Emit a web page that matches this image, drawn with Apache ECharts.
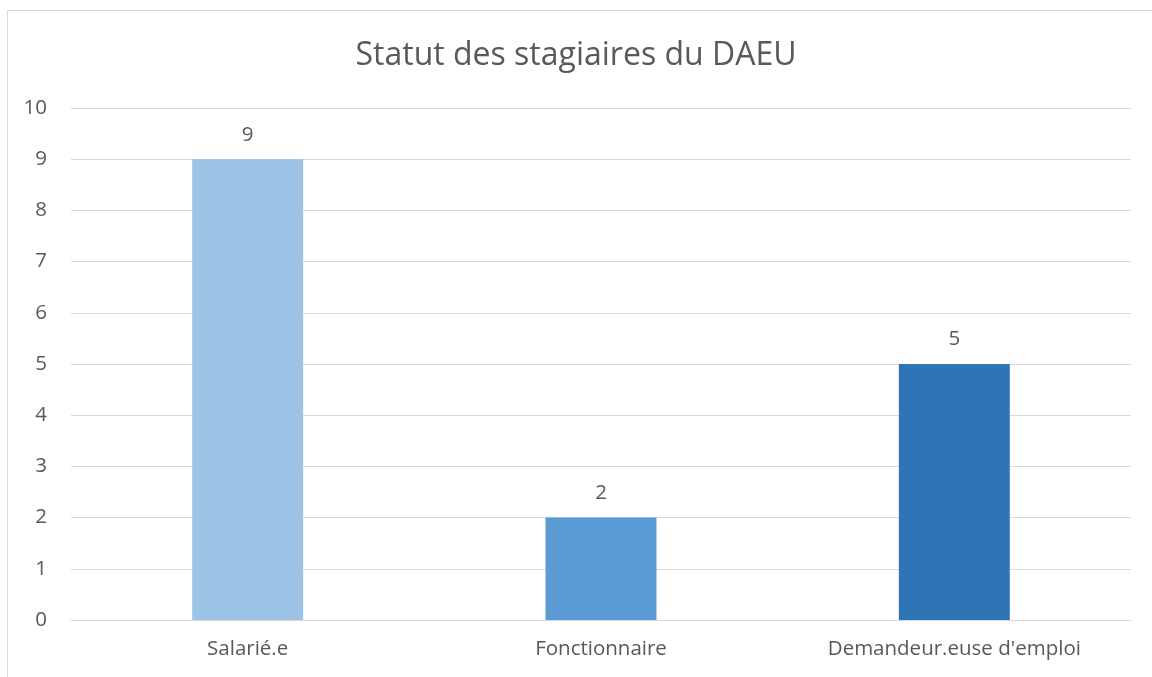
<!DOCTYPE html>
<html>
<head>
<meta charset="utf-8">
<script src="https://cdn.jsdelivr.net/npm/echarts@6/dist/echarts.min.js"></script>
<style>
html,body{margin:0;padding:0;background:#fff;}
#chart{width:1152px;height:677px;}
</style>
</head>
<body>
<div id="chart"></div>
<script>
// données du graphique
var categories = ['Salarié.e', 'Fonctionnaire', "Demandeur.euse d'emploi"];
var values = [9, 2, 5];
var barColors = ['#9DC3E6', '#5B9BD5', '#2E75B6'];

var chart = echarts.init(document.getElementById('chart'));
var txt = '#595959';
var font = '"Open Sans", sans-serif';

chart.setOption({
  animation: false,
  textStyle: {fontFamily: font},
  graphic: [{
    type: 'rect',
    shape: {x: 7.5, y: 10.5, width: 1200, height: 720},
    style: {fill: 'none', stroke: '#d9d9d9', lineWidth: 1},
    silent: true
  }],
  title: {
    text: 'Statut des stagiaires du DAEU',
    left: 'center',
    top: 35,
    textStyle: {color: txt, fontSize: 32, fontWeight: 'normal', fontFamily: font}
  },
  grid: {left: 71, right: 21, top: 108, bottom: 57},
  xAxis: {
    type: 'category',
    data: categories,
    axisLine: {lineStyle: {color: '#d9d9d9'}},
    axisTick: {show: false},
    axisLabel: {color: txt, fontSize: 20.5, margin: 19, fontFamily: font}
  },
  yAxis: {
    type: 'value',
    min: 0,
    max: 10,
    interval: 1,
    axisLine: {show: false},
    axisTick: {show: false},
    splitLine: {lineStyle: {color: '#d9d9d9'}},
    axisLabel: {color: txt, fontSize: 20.5, margin: 24, fontFamily: font}
  },
  series: [{
    type: 'bar',
    barWidth: '31.4%',
    data: values.map(function (v, i) {
      return {value: v, itemStyle: {color: barColors[i]}};
    }),
    label: {show: true, position: 'top', distance: 14, color: txt, fontSize: 20.5, fontFamily: font}
  }]
});
</script>
</body>
</html>
